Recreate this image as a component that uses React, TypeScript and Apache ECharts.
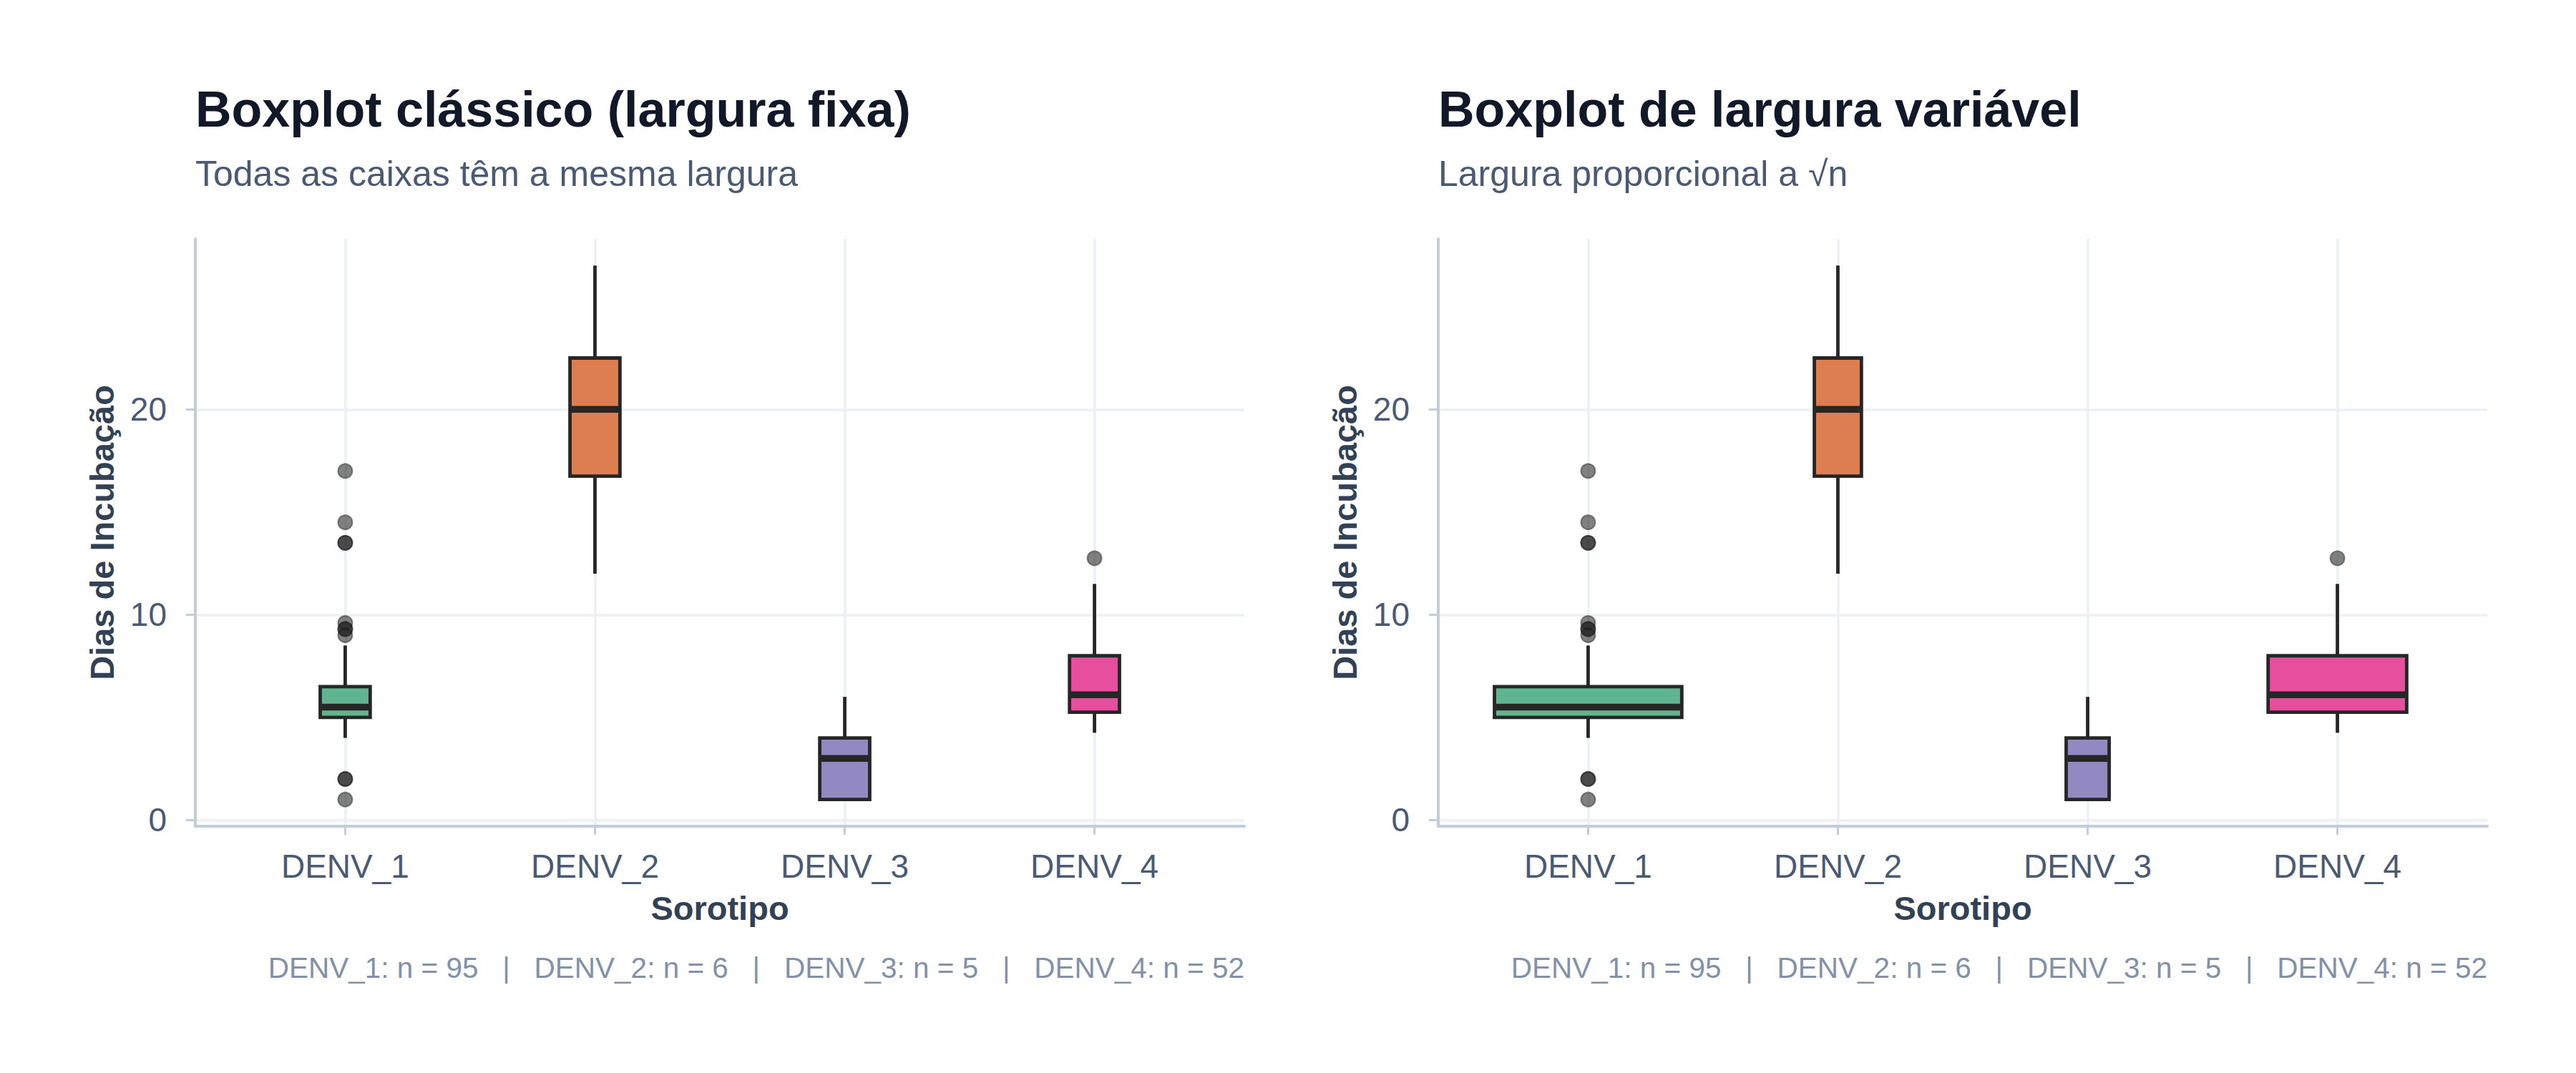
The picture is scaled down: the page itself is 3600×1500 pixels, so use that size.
import React, { useEffect, useRef } from "react";
import * as echarts from "echarts";

// ---------- data ----------
const categories = ["DENV_1", "DENV_2", "DENV_3", "DENV_4"];
const sampleSizes = [95, 6, 5, 52];
const lowerWhisker = [4, 12, 1, 4.25];
const firstQuartile = [5, 16.75, 1, 5.25];
const medians = [5.5, 20, 3, 6.1];
const thirdQuartile = [6.5, 22.5, 4, 8];
const upperWhisker = [8.5, 27, 6, 11.5];
const outliersDENV1 = [17, 14.5, 13.5, 13.5, 9.6, 9.3, 9.3, 9.0, 2, 2, 1];
const outliersDENV2: number[] = [];
const outliersDENV3: number[] = [];
const outliersDENV4 = [12.75];
const outliers = [outliersDENV1, outliersDENV2, outliersDENV3, outliersDENV4];
const yTicks = [0, 10, 20];
const xTicks = [1, 2, 3, 4];

const panelTitles = ["Boxplot clássico (largura fixa)", "Boxplot de largura variável"];
const panelSubtitles = ["Todas as caixas têm a mesma largura", "Largura proporcional a √n"];
const xAxisTitle = "Sorotipo";
const yAxisTitle = "Dias de Incubação";

// ---------- styles ----------
const FONT = '"Liberation Sans", Arial, Helvetica, sans-serif';
const boxColors = ["#60B591", "#DC7E4F", "#9289C2", "#E84E9E"];
const LINE_DARK = "#262626";
const AXIS_COLOR = "#C3CDDA";
const GRID_COLOR = "#EDF0F5";
const FIXED_WIDTH = 0.2;
const MAX_VAR_WIDTH = 0.75;

const GRID_TOP = 334;
const GRID_H = 821;
const GRID_W = 1466;
const GRID_LEFTS = [273, 2010];

const maxN = Math.max(...sampleSizes);
const fixedWidths = sampleSizes.map(() => FIXED_WIDTH);
const varWidths = sampleSizes.map((n) => MAX_VAR_WIDTH * Math.sqrt(n / maxN));
const panelWidths = [fixedWidths, varWidths];

const captionText = categories
  .map((c, i) => `${c}: n = ${sampleSizes[i]}`)
  .join("   |   ");

const boxData = categories.map((_, i) => [
  i + 1,
  lowerWhisker[i],
  firstQuartile[i],
  medians[i],
  thirdQuartile[i],
  upperWhisker[i],
]);

const outlierData: number[][] = [];
outliers.forEach((list, i) => list.forEach((v) => outlierData.push([i + 1, v])));

const makeRenderItem = (widths: number[]) => (params: any, api: any) => {
  const i = params.dataIndex;
  const x = api.value(0);
  const lo = api.coord([x, api.value(1)]);
  const b1 = api.coord([x, api.value(2)]);
  const md = api.coord([x, api.value(3)]);
  const b3 = api.coord([x, api.value(4)]);
  const hi = api.coord([x, api.value(5)]);
  const w = api.size([widths[i], 0])[0];
  const cx = lo[0];
  const ls = { stroke: LINE_DARK, lineWidth: 4.8 };
  return {
    type: "group",
    children: [
      { type: "line", shape: { x1: cx, y1: b3[1], x2: cx, y2: hi[1] }, style: ls },
      { type: "line", shape: { x1: cx, y1: lo[1], x2: cx, y2: b1[1] }, style: ls },
      {
        type: "rect",
        shape: { x: cx - w / 2, y: b3[1], width: w, height: b1[1] - b3[1] },
        style: { fill: boxColors[i], stroke: LINE_DARK, lineWidth: 4.8 },
      },
      {
        type: "line",
        shape: { x1: cx - w / 2 + 2, y1: md[1], x2: cx + w / 2 - 2, y2: md[1] },
        style: { stroke: LINE_DARK, lineWidth: 9.5 },
      },
    ],
  };
};

export default function App() {
  const ref = useRef<HTMLDivElement>(null);

  useEffect(() => {
    if (!ref.current) return;
    const chart = echarts.init(ref.current, undefined, { renderer: "svg" });

    const grids = GRID_LEFTS.map((left) => ({
      left,
      top: GRID_TOP,
      width: GRID_W,
      height: GRID_H,
      containLabel: false,
    }));

    const xAxes = GRID_LEFTS.map((_, gi) => ({
      type: "value",
      gridIndex: gi,
      min: 0.4,
      max: 4.6,
      axisLine: { show: true, onZero: false, lineStyle: { color: AXIS_COLOR, width: 4 } },
      axisTick: { show: true, customValues: xTicks, length: 12, lineStyle: { color: AXIS_COLOR, width: 3 } },
      axisLabel: {
        show: true,
        customValues: xTicks,
        formatter: (v: number) => categories[Math.round(v) - 1] ?? "",
        margin: 33,
        fontSize: 46,
        color: "#4B5A73",
        fontFamily: FONT,
      },
      splitLine: { show: true, lineStyle: { color: GRID_COLOR, width: 3.5 } },
    }));

    const yAxes = GRID_LEFTS.map((_, gi) => ({
      type: "value",
      gridIndex: gi,
      min: -0.3,
      max: 28.3,
      axisLine: { show: true, onZero: false, lineStyle: { color: AXIS_COLOR, width: 4 } },
      axisTick: { show: true, customValues: yTicks, length: 13, lineStyle: { color: AXIS_COLOR, width: 3 } },
      axisLabel: {
        show: true,
        customValues: yTicks,
        margin: 40,
        fontSize: 46,
        color: "#4B5A73",
        fontFamily: FONT,
      },
      splitLine: { show: true, lineStyle: { color: GRID_COLOR, width: 3.5 } },
    }));

    const series: any[] = [];
    GRID_LEFTS.forEach((_, gi) => {
      series.push({
        type: "custom",
        xAxisIndex: gi,
        yAxisIndex: gi,
        renderItem: makeRenderItem(panelWidths[gi]),
        encode: { x: 0, y: [1, 2, 3, 4, 5] },
        data: boxData,
        z: 2,
        clip: false,
      });
      series.push({
        type: "scatter",
        xAxisIndex: gi,
        yAxisIndex: gi,
        data: outlierData,
        symbol: "circle",
        symbolSize: 20,
        itemStyle: {
          color: "rgba(34,34,34,0.72)",
          borderColor: "rgba(20,20,20,0.55)",
          borderWidth: 2,
        },
        z: 3,
        silent: true,
      });
    });

    const graphics: any[] = [];
    GRID_LEFTS.forEach((left, gi) => {
      graphics.push({
        type: "text",
        x: left,
        y: 153,
        style: {
          text: panelTitles[gi],
          font: `bold 70px ${FONT}`,
          fill: "#111827",
          align: "left",
          verticalAlign: "middle",
        },
      });
      graphics.push({
        type: "text",
        x: left,
        y: 243,
        style: {
          text: panelSubtitles[gi],
          font: `50px ${FONT}`,
          fill: "#4B5A73",
          align: "left",
          verticalAlign: "middle",
        },
      });
      graphics.push({
        type: "text",
        x: left - 131,
        y: GRID_TOP + GRID_H / 2,
        rotation: Math.PI / 2,
        style: {
          text: yAxisTitle,
          font: `bold 47px ${FONT}`,
          fill: "#334155",
          align: "center",
          verticalAlign: "middle",
        },
      });
      graphics.push({
        type: "text",
        x: left + GRID_W / 2,
        y: 1269,
        style: {
          text: xAxisTitle,
          font: `bold 47px ${FONT}`,
          fill: "#334155",
          align: "center",
          verticalAlign: "middle",
        },
      });
      graphics.push({
        type: "text",
        x: left + GRID_W,
        y: 1353,
        style: {
          text: captionText,
          font: `40.5px ${FONT}`,
          fill: "#8391A8",
          align: "right",
          verticalAlign: "middle",
        },
      });
    });

    chart.setOption({
      animation: false,
      backgroundColor: "#FFFFFF",
      textStyle: { fontFamily: FONT },
      grid: grids,
      xAxis: xAxes,
      yAxis: yAxes,
      series,
      graphic: graphics,
    });

    return () => chart.dispose();
  }, []);

  return (
    <div
      ref={ref}
      style={{ position: "fixed", left: 0, top: 0, width: 3600, height: 1500, background: "#fff" }}
    />
  );
}
